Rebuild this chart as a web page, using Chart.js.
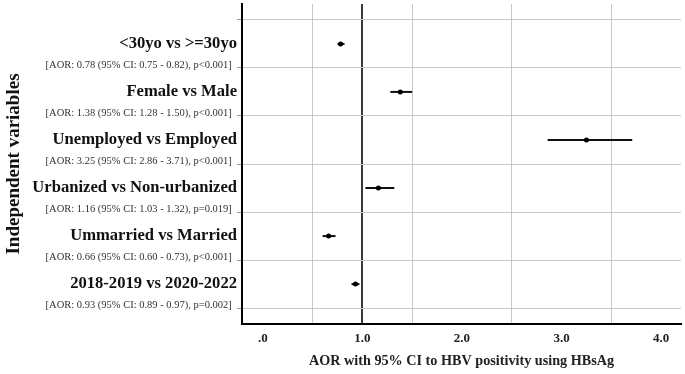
<!DOCTYPE html>
<html>
<head>
<meta charset="utf-8">
<script src="https://cdn.jsdelivr.net/npm/chart.js@4/dist/chart.umd.min.js"></script>
<style>
html,body{margin:0;padding:0;background:#fff;}
#wrap{width:685px;height:374px;}
</style>
</head>
<body>
<div id="wrap"><canvas id="c" width="685" height="374"></canvas></div>
<script>
const categories = ["<30yo vs >=30yo", "Female vs Male", "Unemployed vs Employed", "Urbanized vs Non-urbanized", "Ummarried vs Married", "2018-2019 vs 2020-2022"];
const aor = [0.78, 1.38, 3.25, 1.16, 0.66, 0.93];
const ciLow = [0.75, 1.28, 2.86, 1.03, 0.60, 0.89];
const ciHigh = [0.82, 1.50, 3.71, 1.32, 0.73, 0.97];
const pText = ["p<0.001", "p<0.001", "p<0.001", "p=0.019", "p<0.001", "p=0.002"];
const xTickValues = [0, 1, 2, 3, 4];
const xTickLabels = [".0", "1.0", "2.0", "3.0", "4.0"];
const xGridValues = [0.5, 1.5, 2.5, 3.5];

const FONT = "'Liberation Serif', 'Times New Roman', serif";
const detail = categories.map((c, i) =>
  `[AOR: ${aor[i].toFixed(2)} (95% CI: ${ciLow[i].toFixed(2)} - ${ciHigh[i].toFixed(2)}), ${pText[i]}]\u2002`);

function kind(v) {
  const f = v - Math.floor(v);
  if (Math.abs(f) < 0.01) return 'cat';
  if (Math.abs(f - 0.45) < 0.01) return 'detail';
  return 'grid';
}

const datasets = [{
  data: aor.map((v, i) => ({x: v, y: i + 1})),
  pointRadius: 2.5,
  pointBackgroundColor: '#000',
  pointBorderColor: '#000',
  pointBorderWidth: 0,
  showLine: false,
  order: 0
}];
categories.forEach((c, i) => {
  datasets.push({
    data: [{x: ciLow[i], y: i + 1}, {x: ciHigh[i], y: i + 1}],
    showLine: true,
    borderColor: '#111',
    borderWidth: 2,
    pointRadius: 0,
    order: 1
  });
});

new Chart(document.getElementById('c'), {
  type: 'scatter',
  data: {datasets},
  options: {
    responsive: false,
    animation: false,
    devicePixelRatio: 1,
    layout: {padding: {left: 0, right: 2, top: 3, bottom: 0}},
    plugins: {legend: {display: false}, tooltip: {enabled: false}},
    scales: {
      x: {
        type: 'linear',
        min: -0.21,
        max: 4.2,
        afterBuildTicks: s => {
          const vals = xTickValues.concat(xGridValues).sort((a, b) => a - b);
          s.ticks = vals.map(v => ({value: v}));
        },
        afterFit: s => { s.height = 50; },
        border: {color: '#000', width: 2},
        grid: {
          drawTicks: false,
          color: ctx => {
            const v = ctx.tick ? ctx.tick.value : null;
            if (v === 1) return '#3a3a3a';
            if (xGridValues.includes(v)) return '#c8c8c8';
            return 'rgba(0,0,0,0)';
          },
          lineWidth: ctx => (ctx.tick && ctx.tick.value === 1) ? 2 : 1
        },
        ticks: {
          autoSkip: false,
          maxRotation: 0,
          padding: 7,
          color: '#222',
          font: {family: FONT, size: 13, weight: 'bold'},
          callback: v => {
            const i = xTickValues.indexOf(v);
            return i >= 0 ? xTickLabels[i] : '';
          }
        },
        title: {
          display: true,
          text: 'AOR with 95% CI to HBV positivity using HBsAg',
          color: '#222',
          font: {family: FONT, size: 14.2, weight: 'bold'},
          padding: {top: 0, bottom: 4}
        }
      },
      y: {
        type: 'linear',
        reverse: true,
        min: 0.17,
        max: 6.83,
        afterBuildTicks: s => {
          const vals = [0.5];
          categories.forEach((c, i) => { vals.push(i + 1, i + 1.45, i + 1.5); });
          s.ticks = vals.map(v => ({value: v}));
        },
        afterFit: s => { s.width = 242; },
        border: {color: '#000', width: 2},
        grid: {
          drawTicks: true,
          tickLength: 5,
          color: ctx => (ctx.tick && kind(ctx.tick.value) === 'grid') ? '#c8c8c8' : 'rgba(0,0,0,0)',
          tickColor: ctx => (ctx.tick && kind(ctx.tick.value) === 'grid') ? '#999' : 'rgba(0,0,0,0)'
        },
        ticks: {
          autoSkip: false,
          padding: 0,
          color: ctx => (ctx.tick && kind(ctx.tick.value) === 'detail') ? '#333' : '#111',
          font: ctx => {
            const k = ctx.tick ? kind(ctx.tick.value) : 'cat';
            if (k === 'detail') return {family: FONT, size: 10.5, weight: 'normal'};
            if (k === 'grid') return {family: FONT, size: 1, weight: 'normal'};
            return {family: FONT, size: 16.6, weight: 'bold'};
          },
          callback: v => {
            const k = kind(v);
            const i = Math.floor(v + 0.001) - 1;
            if (k === 'cat') return categories[i];
            if (k === 'detail') return detail[i];
            return '';
          }
        },
        title: {
          display: true,
          text: 'Independent variables',
          color: '#111',
          font: {family: FONT, size: 19, weight: 'bold'},
          padding: {top: 3, bottom: 0}
        }
      }
    }
  }
});
</script>
</body>
</html>
